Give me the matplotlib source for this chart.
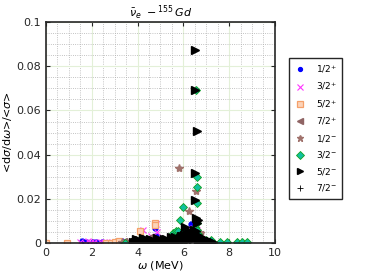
import numpy as np
import matplotlib.pyplot as plt
from matplotlib.ticker import MultipleLocator

# --- data (omega in MeV, normalised cross section) ---
w_12p = [1.56, 1.75, 2.04, 2.2, 2.45, 3.1, 3.3, 4.0, 4.76, 4.8, 5.6, 6.32, 6.45, 6.6]
y_12p = [0.0010, 0.0004, 0.0006, 0.0003, 0.0005, 0.0004, 0.0008, 0.0005, 0.0066,
         0.0030, 0.0012, 0.0088, 0.0020, 0.0045]

w_32p = [1.5, 1.7, 1.85, 1.95, 2.1, 2.25, 2.4, 2.55, 2.7, 2.9, 3.05, 3.2, 3.4,
         4.25, 4.6, 4.8, 4.85, 5.3, 5.8, 6.2, 6.6]
y_32p = [0.0005, 0.0002, 0.0008, 0.0003, 0.0004, 0.0001, 0.0006, 0.0003, 0.0002,
         0.0005, 0.0003, 0.0004, 0.0006, 0.0059, 0.0030, 0.0085, 0.0050, 0.0010,
         0.0015, 0.0070, 0.0060]

w_52p = [0.0, 0.9, 2.62, 2.84, 3.0, 3.2, 4.1, 4.55, 4.76, 4.78, 5.4, 5.9, 6.3, 6.6]
y_52p = [0.0001, 0.0002, 0.0002, 0.0002, 0.0003, 0.0010, 0.0055, 0.0015, 0.0089,
         0.0080, 0.0020, 0.0025, 0.0040, 0.0050]

w_72p = [3.37, 3.6, 4.3, 4.5, 5.2, 5.9, 6.4, 6.7]
y_72p = [0.0006, 0.0003, 0.0010, 0.0025, 0.0008, 0.0030, 0.0020, 0.0035]

w_12m = [3.3, 4.7, 5.5, 5.81, 6.1, 6.26, 6.55, 6.72]
y_12m = [0.0005, 0.0012, 0.0020, 0.0338, 0.0060, 0.0146, 0.0235, 0.0047]

w_32m = [3.45, 3.96, 4.4, 5.0, 5.53, 5.7, 5.78, 5.85, 5.92, 5.97, 6.0, 6.3, 6.5,
         6.55, 6.58, 6.58, 6.58, 6.58, 6.58, 6.6, 6.64, 6.8, 7.0, 7.23, 7.6, 7.9,
         8.33, 8.55, 8.76]
y_32m = [0.0001, 0.0003, 0.0010, 0.0015, 0.0044, 0.0056, 0.0054, 0.0104, 0.0039,
         0.0165, 0.0020, 0.0030, 0.0071, 0.0692, 0.0300, 0.0255, 0.0182, 0.0058,
         0.0020, 0.0090, 0.0040, 0.0010, 0.0015, 0.0014, 0.0006, 0.0006, 0.0005,
         0.0005, 0.0005]

w_52m = [6.5, 6.5, 6.58, 6.5, 6.5, 6.55, 6.6, 6.07, 6.62,
         3.8, 3.9, 4.0, 4.1, 4.2, 4.3, 4.4, 4.5, 4.6, 4.7, 4.8, 4.9, 5.0, 5.1,
         5.2, 5.3, 5.4, 5.5, 5.6, 5.7, 5.8, 5.85, 5.9, 5.95, 6.0, 6.05, 6.1, 6.15,
         6.2, 6.25, 6.3, 6.35, 6.4, 6.45, 6.5, 6.55, 6.6, 6.65, 6.7, 6.75, 6.8,
         6.85, 6.9, 7.0, 7.1, 7.2, 7.3,
         4.05, 4.35, 4.65, 4.95, 5.25, 5.55, 5.75, 6.02, 6.22, 6.42, 6.62, 6.82,
         3.95, 4.25, 4.55, 4.85, 5.15, 5.45, 5.65, 5.88, 6.12, 6.32, 6.52, 6.72,
         6.95, 7.05, 7.15]
y_52m = [0.0873, 0.0692, 0.0507, 0.0315, 0.0195, 0.0112, 0.0089, 0.0074, 0.0104,
         0.0003, 0.0005, 0.0002, 0.0006, 0.0004, 0.0008, 0.0003, 0.0007, 0.0005,
         0.0010, 0.0006, 0.0004, 0.0008, 0.0005, 0.0009, 0.0006, 0.0011, 0.0007,
         0.0012, 0.0020, 0.0015, 0.0025, 0.0018, 0.0030, 0.0022, 0.0035, 0.0028,
         0.0040, 0.0030, 0.0045, 0.0025, 0.0050, 0.0035, 0.0060, 0.0040, 0.0055,
         0.0030, 0.0035, 0.0025, 0.0020, 0.0015, 0.0012, 0.0010, 0.0008, 0.0006,
         0.0005, 0.0003,
         0.0015, 0.0018, 0.0014, 0.0016, 0.0019, 0.0017, 0.0010, 0.0012, 0.0016,
         0.0018, 0.0014, 0.0006,
         0.0020, 0.0022, 0.0018, 0.0024, 0.0020, 0.0026, 0.0028, 0.0032, 0.0030,
         0.0026, 0.0038, 0.0024, 0.0018, 0.0012, 0.0008]

w_72m = [4.2, 4.9, 5.6, 6.1, 6.5, 6.9]
y_72m = [0.0010, 0.0008, 0.0012, 0.0015, 0.0020, 0.0010]

labels = ['1/2$^{+}$', '3/2$^{+}$', '5/2$^{+}$', '7/2$^{+}$',
          '1/2$^{-}$', '3/2$^{-}$', '5/2$^{-}$', '7/2$^{-}$']

plt.rcParams['font.family'] = 'DejaVu Sans'
fig = plt.figure(figsize=(3.74, 2.8), dpi=100)
ax = fig.add_axes([0.123, 0.132, 0.612, 0.789])

ax.plot(w_12p, y_12p, 'o', color='blue', ms=3.5, ls='none', label=labels[0])
ax.plot(w_32p, y_32p, 'x', color='#ff33ff', ms=5, mew=0.8, ls='none', label=labels[1])
ax.plot(w_52p, y_52p, 's', mfc='#fcd3b8', mec='#f5a06a', ms=5, mew=0.9, ls='none', label=labels[2])
ax.plot(w_72p, y_72p, '<', color='#8f6464', ms=5.5, ls='none', label=labels[3])
ax.plot(w_12m, y_12m, '*', color='#a0726c', ms=6, ls='none', label=labels[4])
ax.plot(w_32m, y_32m, 'D', mfc='#10c0a0', mec='#10a020', ms=4.5, mew=0.6, ls='none', label=labels[5])
ax.plot(w_52m, y_52m, '>', color='black', ms=5.5, ls='none', label=labels[6])
ax.plot(w_72m, y_72m, '+', color='black', ms=5, mew=0.6, ls='none', label=labels[7])

ax.set_xlim(0, 10)
ax.set_ylim(0, 0.1)
ax.set_xticks([0, 2, 4, 6, 8, 10])
ax.set_yticks([0, 0.02, 0.04, 0.06, 0.08, 0.1])
ax.set_yticklabels(['0', '0.02', '0.04', '0.06', '0.08', '0.1'])
ax.xaxis.set_minor_locator(MultipleLocator(0.5))
ax.yaxis.set_minor_locator(MultipleLocator(0.005))

ax.grid(True, which='major', color='#e3f0d8', lw=0.8, ls='-')
ax.grid(True, which='minor', color='#b0b0b0', lw=0.6, ls=':')
ax.set_axisbelow(True)
ax.tick_params(which='both', direction='in', top=True, right=True, labelsize=8, colors='#262626')
ax.tick_params(which='minor', length=0)
ax.tick_params(which='major', length=3)
for s in ax.spines.values():
    s.set_linewidth(1.2)
    s.set_color('#262626')

ax.set_title(r'$\bar{\nu}_e\ -^{155}\,Gd$', fontsize=8, pad=3)
ax.set_xlabel(r'$\omega$ (MeV)', fontsize=8, labelpad=1)
ax.set_ylabel(r'<d$\sigma$/d$\omega$>/<$\sigma$>', fontsize=8, labelpad=2)

leg = ax.legend(loc='upper left', bbox_to_anchor=(289 / 374, 1 - 58 / 280),
                bbox_transform=fig.transFigure, fontsize=6.5, labelspacing=0.62,
                handlelength=1.3, handletextpad=1.1, borderpad=0.6, borderaxespad=0,
                fancybox=False, framealpha=1, edgecolor='#262626', markerscale=0.8)
leg.get_frame().set_linewidth(1.0)

fig.savefig('out.png', dpi=100)
